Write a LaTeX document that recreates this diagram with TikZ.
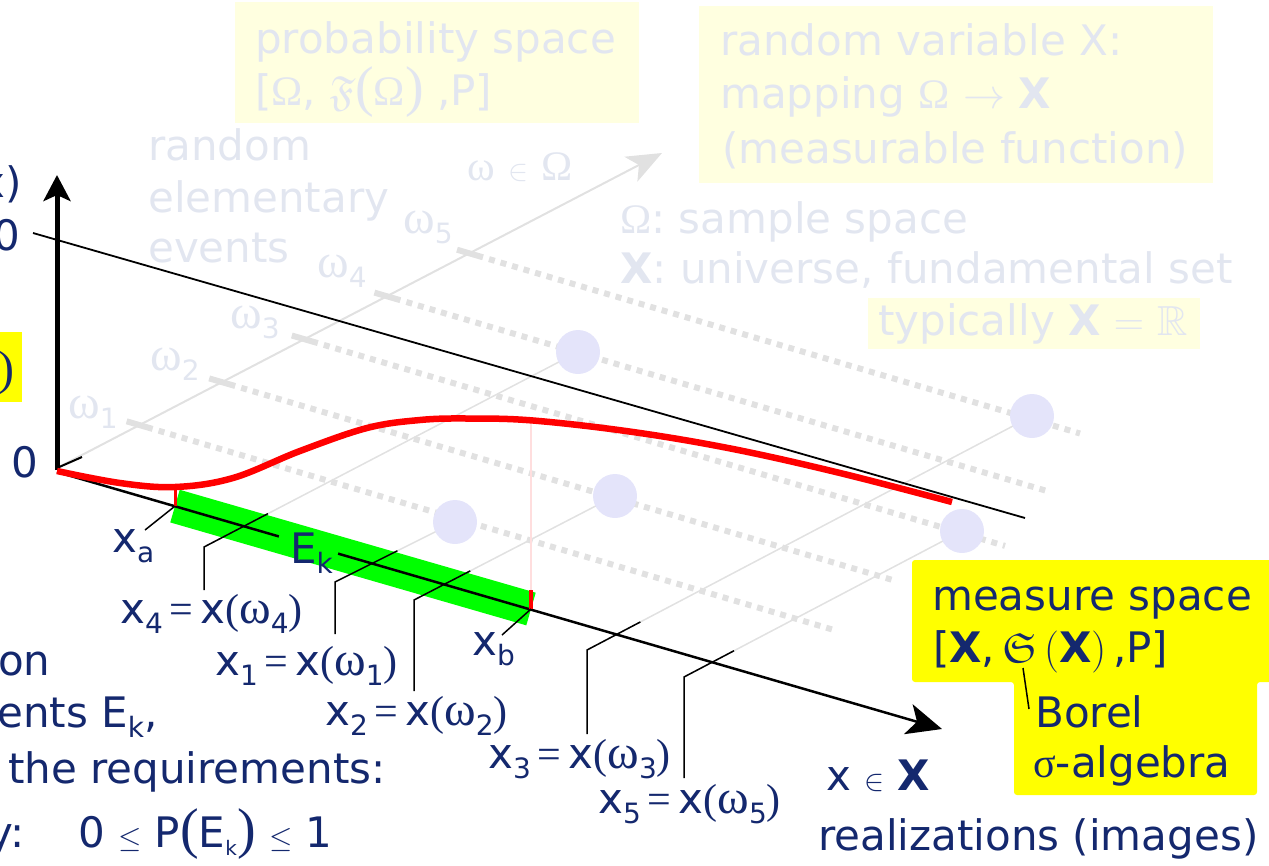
\RequirePackage{fix-cm}
\documentclass[tikz,border=0pt]{standalone}
\usepackage{amsmath,amssymb}
\usepackage{fontspec}
\setmainfont{DejaVu Sans}
\newfontfamily\symf{Liberation Serif}
\usetikzlibrary{arrows.meta,calc}
\definecolor{navy}{RGB}{20,40,110}
\definecolor{faint}{RGB}{226,230,240}
\definecolor{faintyel}{RGB}{255,255,224}
\definecolor{lgray}{RGB}{225,225,225}
\definecolor{lav}{RGB}{228,228,250}
\definecolor{brightyel}{RGB}{255,255,0}
\definecolor{bandgreen}{RGB}{0,255,0}
\definecolor{curvered}{RGB}{255,0,0}
\definecolor{pinkline}{RGB}{255,222,222}
\newcommand{\sbs}[1]{\raisebox{-10pt}{\fontsize{28}{28}\selectfont #1}}
\newcommand{\omg}[1]{{\fontsize{48}{48}\selectfont\symf ω}\sbs{#1}}
\newcommand{\myin}{{\fontsize{30}{30}\selectfont$\in$}}
\newcommand{\myleq}{{\fontsize{30}{30}\selectfont$\leq$}}
\newcommand{\xlab}[1]{x\sbs{#1}{\symf\,=\,}x{\symf (}\omg{#1}{\symf )}}
\newcommand{\bigp}[1]{\smash{\fontsize{56}{56}\selectfont\symf #1}}
\begin{document}
\begin{tikzpicture}[x=1pt,y=-1pt,
  every node/.style={inner sep=0pt, font=\fontsize{42}{50}\selectfont},
  txt/.style={text=navy, anchor=base west},
  ftxt/.style={text=faint, anchor=base west},
  tickmark/.style={lgray, line width=6pt},
  dotline/.style={lgray, line width=6pt, dash pattern=on 6pt off 6pt},
  thingray/.style={lgray, line width=1.5pt},
  leader/.style={black, line width=1.5pt},
  dotc/.style={circle, fill=lav, minimum size=44pt}]
\useasboundingbox (0,0) rectangle (1269,865);

% faint boxes
\fill[faintyel] (235,2) rectangle (639,123);
\fill[faintyel] (699,6) rectangle (1213,183);
\fill[faintyel] (868,298) rectangle (1200,349);

% faint texts
\node[ftxt] (ps1) at (255,53) {probability space};
\node[ftxt] (ps2) at (255,105) {[{\symf Ω}, $\mathfrak{F}$\bigp{(}{\symf Ω}\bigp{)} ,P]};
\node[ftxt] (rv1) at (720,55) {random variable X:};
\node[ftxt] (rv2) at (720,108) {mapping {\symf Ω} $\rightarrow$ \textbf{X}};
\node[ftxt] (rv3) at (722,163) {(measurable function)};
\node[ftxt] (re1) at (148,160) {random};
\node[ftxt] (re2) at (148,212) {elementary};
\node[ftxt] (re3) at (148,262) {events};
\node[ftxt] (wo) at (467,180) {{\symf ω} \myin\ {\symf Ω}};
\node[ftxt] (lw1) at (68,418) {\omg{1}};
\node[ftxt] (lw2) at (150,370) {\omg{2}};
\node[ftxt] (lw3) at (230,328) {\omg{3}};
\node[ftxt] (lw4) at (317,277) {\omg{4}};
\node[ftxt] (lw5) at (403,233) {\omg{5}};
\node[ftxt] (om) at (620,233) {{\symf Ω}: sample space};
\node[ftxt] (uni) at (620,283) {\textbf{X}: universe, fundamental set};
\node[ftxt] (typ) at (878,335) {typically \textbf{X} $=$ $\mathbb{R}$};

% omega axis
\coordinate (Ow) at (57,468);
\coordinate (Wtip) at (662,153);
\coordinate (Wb) at (82,457);
\draw[lgray, line width=2pt, -{Stealth[length=35pt,width=28pt,inset=9pt]}] (Ow) -- (Wtip);

% omega ticks and dotted lines
\coordinate (T1) at (139.6,425.1); \coordinate (E1) at (833,629.7);
\coordinate (T2) at (222.2,382.2); \coordinate (E2) at (893,580.1);
\coordinate (T3) at (304.8,339.3); \coordinate (E3) at (1005,545.9);
\coordinate (T4) at (387.4,296.4); \coordinate (E4) at (1050,491.9);
\coordinate (T5) at (470,253.5);   \coordinate (E5) at (1080,433.5);
\foreach \k in {1,...,5}{
  \draw[tickmark] ($(T\k)+(-13,-3.8)$) -- ($(T\k)+(13,3.8)$);
  \draw[dotline] ($(T\k)+(19,5.6)$) -- (E\k);
}

% leader geometry
\coordinate (D4) at (578,352);  \coordinate (V4) at (204,547); \coordinate (L4) at (204,590);
\coordinate (D1) at (455,522);  \coordinate (V1) at (335,582); \coordinate (L1) at (335,634);
\coordinate (D2) at (615,496);  \coordinate (V2) at (414,600); \coordinate (L2) at (414,691);
\coordinate (D3) at (1032,416); \coordinate (V3) at (587,650); \coordinate (L3) at (587,734);
\coordinate (D5) at (962,531);  \coordinate (V5) at (684,677); \coordinate (L5) at (684,778);
\coordinate (B4) at ($(V4)!0.171!(D4)$);
\coordinate (B1) at ($(V1)!0.52!(D1)$);
\coordinate (B2) at ($(V2)!0.28!(D2)$);
\coordinate (B3) at ($(V3)!0.12!(D3)$);
\coordinate (B5) at ($(V5)!0.18!(D5)$);
\foreach \k in {1,...,5}{ \draw[thingray] (V\k) -- (D\k); }
\foreach \k in {1,...,5}{ \node[dotc] (dot\k) at (D\k) {}; }

% axes
\coordinate (O) at (57,472);
\coordinate (Xtip) at (942,729);
\coordinate (Ov) at (57,470);
\coordinate (Ftip) at (57,175);
\coordinate (One1) at (33,233);
\coordinate (One2) at (1025,518);
\coordinate (Xa) at (175,506.1);
\coordinate (Xb) at (531,609);
\draw[bandgreen, line width=34pt] (Xa) -- (Xb);
\draw[black, line width=2.5pt, -{Stealth[length=35pt,width=31pt,inset=9pt]}] (O) -- (Xtip);
\draw[black, line width=5pt, -{Stealth[length=26pt,width=27pt,inset=6pt]}] (Ov) -- (Ftip);
\draw[black, line width=2pt] (Ow) -- (Wb);
\draw[black, line width=1.8pt] (One1) -- (One2);
\draw[bandgreen, line width=5pt] ($(O)!0.2508!(Xtip)$) -- ($(O)!0.3175!(Xtip)$);

% curve
\coordinate (Ra) at (175,487);
\coordinate (Rb) at (531,590);
\coordinate (Pk) at (531,421);
\draw[pinkline, line width=1.5pt] (Pk) -- (Rb);
\draw[curvered, line width=6.5pt] plot[smooth, tension=0.6] coordinates {(57,471) (120,483) (175,487) (233,478) (300,451) (367,428) (420,420) (467,418.5) (533,420.5) (633,432) (733,449) (840,473) (952,502)};
\draw[curvered, line width=3pt] (Ra) -- (Xa);
\draw[curvered, line width=3.5pt] (Rb) -- (Xb);

% leaders
\coordinate (La) at (145,530);
\coordinate (Lb) at (502,635);
\draw[leader] (La) -- (Xa);
\draw[leader] (Lb) -- (Xb);
\foreach \k in {1,...,5}{ \draw[leader] (L\k) -- (V\k) -- (B\k); }

% navy labels
\node[txt] (xa) at (112,552) {x\sbs{a}};
\node[txt] (Ek) at (290,563) {E\sbs{k}};
\node[txt] (xb) at (472,655) {x\sbs{b}};
\node[txt] (lab4) at (120,623) {\xlab{4}};
\node[txt] (lab1) at (215,675) {\xlab{1}};
\node[txt] (lab2) at (325,725) {\xlab{2}};
\node[txt] (lab3) at (488,768) {\xlab{3}};
\node[txt] (lab5) at (598,813) {\xlab{5}};
\node[txt, anchor=base east] (zero) at (38,477) {0};
\node[txt, anchor=base east] (one) at (20,250) {1.0};
\node[txt, anchor=base east] (Fx) at (22,197) {F(x)};

% left yellow box
\fill[brightyel] (-5,332) rectangle (22,402);
\node[txt] (lpar) at (-2,384) {{\fontsize{48}{48}\selectfont\symf )}};

% bottom-left text
\node[txt] (t1) at (-2,675) {on};
\node[txt] (t2) at (-3,727) {ents E\sbs{k},};
\node[txt] (t3) at (8,783) {the requirements:};
\node[txt] (t4) at (-12,847) {y:};
\node[txt] (t5) at (78,847) {0 \myleq\ P\bigp{(}E\raisebox{-8pt}{\fontsize{20}{20}\selectfont k}\bigp{)} \myleq\ 1};

% bottom-right text
\node[txt] (xin) at (826,790) {x \myin\ \textbf{X}};
\node[txt] (real) at (818,850) {realizations (images)};

% measure space box
\fill[brightyel, rounded corners=3pt] (912,560) -- (1275,560) -- (1275,682) -- (1257,682) -- (1257,795) -- (1014,795) -- (1014,682) -- (912,682) -- cycle;
\node[txt] (ms1) at (932,610) {measure space};
\node[txt] (ms2) at (933,662) {[\textbf{X},\,$\mathfrak{S}\,($\textbf{X}$)$\,,P]};
\node[txt] (bo1) at (1035,727) {Borel};
\node[txt] (bo2) at (1033,777) {{\symf σ}-algebra};
\coordinate (Sg) at (1023,668);
\coordinate (Bo) at (1029,709);
\draw[leader] (Sg) -- (Bo);
\end{tikzpicture}
\end{document}
